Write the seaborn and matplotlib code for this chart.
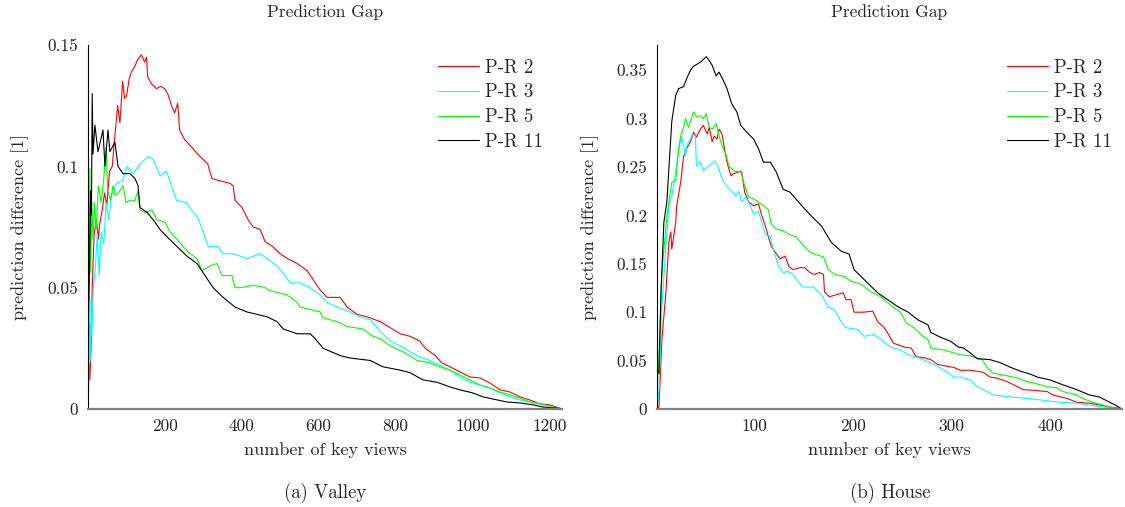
import matplotlib
matplotlib.use("Agg")
import matplotlib.pyplot as plt
import pandas as pd
import seaborn as sns

# series shared by both panels
series_names = ["P-R 2", "P-R 3", "P-R 5", "P-R 11"]
series_colors = ["#ff0000", "#00ffff", "#00ff00", "#000000"]

# ---- (a) Valley ----
valley_x_pr2 = [1, 4, 6, 9, 12, 17, 23, 28, 31, 38, 44, 50, 57, 64, 70, 78, 84, 91, 96, 101,
                108, 114, 122, 130, 140, 148, 153, 156, 166, 179, 190, 200, 208, 218, 226, 234, 239, 252, 270, 286,
                299, 312, 323, 344, 370, 378, 383, 401, 417, 430, 448, 461, 480, 500, 519, 544, 570, 583, 604, 622,
                656, 674, 700, 726, 760, 786, 812, 837, 863, 877, 903, 920, 941, 967, 993, 1019, 1045, 1071, 1097, 1123,
                1149, 1175, 1201, 1232]
valley_y_pr2 = [0.020, 0.018, 0.012, 0.025, 0.050, 0.072, 0.078, 0.070, 0.076, 0.082, 0.089, 0.084, 0.098, 0.100, 0.111,
                0.125, 0.118, 0.135, 0.128, 0.129, 0.136, 0.139, 0.141, 0.144, 0.146, 0.143, 0.145, 0.137, 0.134, 0.132,
                0.133, 0.132, 0.130, 0.125, 0.122, 0.126, 0.115, 0.111, 0.108, 0.105, 0.103, 0.101, 0.095, 0.094, 0.093,
                0.092, 0.086, 0.083, 0.078, 0.075, 0.074, 0.069, 0.067, 0.064, 0.062, 0.060, 0.057, 0.054, 0.049, 0.046,
                0.046, 0.042, 0.039, 0.038, 0.036, 0.0335, 0.031, 0.030, 0.028, 0.025, 0.022, 0.019, 0.0174, 0.0153, 0.0132,
                0.0128, 0.0107, 0.0079, 0.0070, 0.0050, 0.0037, 0.0021, 0.0017, 0.0]

valley_x_pr3 = [1, 3, 5, 7, 9, 11, 15, 20, 25, 30, 35, 42, 48, 55, 62, 75, 90, 103, 118, 136,
                157, 170, 188, 205, 218, 231, 257, 270, 286, 300, 313, 339, 352, 378, 414, 448, 466, 492, 508, 526,
                552, 578, 604, 622, 648, 682, 708, 734, 760, 786, 812, 837, 863, 889, 915, 941, 967, 993, 1019, 1045,
                1071, 1097, 1123, 1149, 1175, 1201, 1232]
valley_y_pr3 = [0.0, 0.010, 0.035, 0.020, 0.045, 0.030, 0.050, 0.058, 0.072, 0.055, 0.073, 0.068, 0.085, 0.078, 0.088,
                0.093, 0.094, 0.100, 0.097, 0.101, 0.104, 0.103, 0.096, 0.098, 0.092, 0.086, 0.085, 0.082, 0.079, 0.073,
                0.067, 0.067, 0.064, 0.064, 0.062, 0.064, 0.062, 0.059, 0.056, 0.052, 0.052, 0.050, 0.047, 0.044, 0.042,
                0.040, 0.038, 0.0368, 0.032, 0.028, 0.026, 0.0236, 0.0215, 0.020, 0.018, 0.016, 0.0132, 0.011, 0.0099, 0.0087,
                0.0066, 0.0050, 0.0037, 0.0029, 0.0021, 0.0012, 0.0]

valley_x_pr5 = [1, 2, 4, 6, 8, 11, 14, 18, 22, 28, 35, 42, 48, 52, 60, 66, 72, 80, 92, 100,
                110, 123, 131, 136, 149, 167, 180, 201, 214, 232, 248, 266, 284, 297, 318, 336, 349, 375, 383, 396,
                430, 461, 469, 518, 544, 552, 604, 611, 648, 674, 715, 741, 760, 786, 819, 856, 889, 915, 941, 967,
                993, 1019, 1045, 1071, 1097, 1123, 1149, 1175, 1201, 1232]
valley_y_pr5 = [0.020, 0.030, 0.060, 0.099, 0.056, 0.085, 0.070, 0.085, 0.074, 0.092, 0.085, 0.095, 0.108, 0.090, 0.086,
                0.092, 0.088, 0.089, 0.092, 0.085, 0.086, 0.086, 0.090, 0.082, 0.081, 0.082, 0.078, 0.077, 0.073, 0.070,
                0.067, 0.064, 0.062, 0.057, 0.059, 0.060, 0.055, 0.055, 0.050, 0.050, 0.051, 0.050, 0.049, 0.047, 0.044,
                0.042, 0.040, 0.0376, 0.036, 0.034, 0.033, 0.030, 0.029, 0.026, 0.0236, 0.020, 0.019, 0.0174, 0.016, 0.014,
                0.012, 0.0099, 0.0087, 0.0070, 0.0058, 0.0045, 0.0029, 0.0021, 0.0012, 0.0]

valley_x_pr11 = [1, 3, 5, 8, 10, 12, 14, 19, 27, 40, 45, 53, 58, 71, 79, 92, 110, 123, 131, 136,
                 155, 175, 188, 206, 232, 258, 284, 305, 326, 352, 383, 414, 440, 466, 492, 508, 544, 578, 591, 612,
                 656, 682, 734, 767, 812, 837, 871, 908, 941, 967, 1001, 1027, 1053, 1089, 1123, 1157, 1183, 1219, 1232]
valley_y_pr11 = [0.010, 0.040, 0.060, 0.090, 0.080, 0.130, 0.105, 0.117, 0.106, 0.115, 0.100, 0.115, 0.106, 0.110, 0.100,
                 0.097, 0.097, 0.095, 0.092, 0.083, 0.081, 0.077, 0.074, 0.071, 0.067, 0.063, 0.060, 0.055, 0.050, 0.046,
                 0.042, 0.040, 0.039, 0.038, 0.036, 0.033, 0.031, 0.031, 0.029, 0.025, 0.022, 0.021, 0.020, 0.0174, 0.016,
                 0.015, 0.012, 0.011, 0.0091, 0.0079, 0.0066, 0.0050, 0.0041, 0.0029, 0.0025, 0.0017, 0.0008, 0.0004, 0.0]

# ---- (b) House ----
house_x_pr2 = [1, 3, 6, 10, 13, 15, 16, 20, 21, 25, 28, 31, 35, 38, 41, 45, 48, 52, 54, 57,
               59, 62, 64, 67, 69, 72, 76, 79, 84, 87, 90, 94, 99, 104, 107, 111, 114, 117, 121, 126,
               131, 135, 139, 146, 151, 156, 161, 166, 170, 171, 176, 183, 190, 193, 198, 201, 210, 220, 225, 231,
               236, 241, 252, 259, 264, 272, 279, 286, 296, 302, 309, 319, 332, 339, 346, 357, 363, 373, 387, 397,
               403, 417, 427, 440, 451, 461, 468, 473]
house_y_pr2 = [0.0, 0.002, 0.072, 0.120, 0.172, 0.183, 0.165, 0.193, 0.210, 0.234, 0.261, 0.269, 0.276, 0.286, 0.281,
               0.289, 0.293, 0.284, 0.291, 0.276, 0.282, 0.279, 0.289, 0.284, 0.272, 0.255, 0.241, 0.243, 0.245, 0.245,
               0.224, 0.214, 0.210, 0.212, 0.201, 0.189, 0.178, 0.168, 0.162, 0.155, 0.158, 0.147, 0.144, 0.146, 0.146,
               0.141, 0.139, 0.141, 0.139, 0.121, 0.116, 0.118, 0.120, 0.113, 0.113, 0.100, 0.100, 0.101, 0.090, 0.085,
               0.077, 0.068, 0.064, 0.063, 0.054, 0.053, 0.051, 0.046, 0.044, 0.043, 0.040, 0.040, 0.038, 0.033, 0.032,
               0.028, 0.025, 0.020, 0.019, 0.018, 0.0145, 0.011, 0.007, 0.006, 0.004, 0.002, 0.001, 0.0]

house_x_pr3 = [1, 3, 6, 10, 13, 16, 20, 23, 26, 30, 31, 35, 37, 40, 41, 45, 48, 52, 56, 59,
               62, 66, 69, 72, 77, 81, 84, 87, 91, 96, 99, 104, 107, 111, 116, 119, 124, 129, 134, 139,
               144, 149, 160, 168, 175, 181, 188, 193, 205, 211, 221, 228, 238, 248, 256, 266, 276, 286, 296, 302,
               309, 319, 326, 336, 342, 360, 377, 393, 410, 427, 440, 454, 473]
house_y_pr3 = [0.0, 0.020, 0.106, 0.168, 0.210, 0.220, 0.245, 0.269, 0.281, 0.261, 0.272, 0.279, 0.284, 0.282, 0.251,
               0.255, 0.246, 0.250, 0.253, 0.256, 0.253, 0.241, 0.234, 0.230, 0.225, 0.220, 0.225, 0.214, 0.219, 0.210,
               0.201, 0.204, 0.194, 0.180, 0.178, 0.165, 0.149, 0.141, 0.142, 0.139, 0.132, 0.126, 0.126, 0.118, 0.105,
               0.103, 0.090, 0.084, 0.082, 0.075, 0.077, 0.072, 0.064, 0.061, 0.056, 0.053, 0.049, 0.044, 0.038, 0.033,
               0.033, 0.030, 0.023, 0.018, 0.0145, 0.0124, 0.011, 0.009, 0.007, 0.006, 0.004, 0.002, 0.0]

house_x_pr5 = [1, 3, 6, 11, 16, 20, 23, 25, 28, 30, 33, 36, 38, 41, 45, 48, 51, 54, 57, 61,
               64, 67, 71, 74, 77, 81, 86, 89, 94, 99, 104, 109, 114, 117, 122, 129, 136, 142, 147, 155,
               161, 170, 175, 181, 191, 198, 208, 218, 228, 235, 241, 248, 254, 262, 271, 276, 279, 292, 302, 309,
               319, 324, 331, 336, 342, 353, 367, 377, 383, 397, 407, 413, 427, 433, 443, 454, 464, 473]
house_y_pr5 = [0.020, 0.054, 0.141, 0.199, 0.234, 0.236, 0.269, 0.282, 0.291, 0.300, 0.291, 0.300, 0.307, 0.302, 0.303,
               0.300, 0.305, 0.291, 0.289, 0.295, 0.282, 0.272, 0.263, 0.251, 0.248, 0.245, 0.246, 0.234, 0.219, 0.217,
               0.214, 0.210, 0.206, 0.191, 0.186, 0.184, 0.180, 0.178, 0.172, 0.163, 0.160, 0.157, 0.144, 0.139, 0.137,
               0.132, 0.129, 0.121, 0.116, 0.110, 0.105, 0.100, 0.089, 0.084, 0.075, 0.072, 0.063, 0.061, 0.058, 0.056,
               0.055, 0.053, 0.051, 0.043, 0.037, 0.035, 0.032, 0.028, 0.027, 0.023, 0.022, 0.018, 0.0145, 0.011, 0.007,
               0.004, 0.001, 0.0]

house_x_pr11 = [1, 3, 5, 8, 11, 16, 20, 23, 28, 31, 35, 38, 43, 46, 51, 54, 57, 61, 64, 69,
                72, 77, 82, 86, 92, 99, 104, 109, 116, 122, 129, 136, 142, 148, 158, 168, 178, 188, 196, 201,
                208, 218, 225, 235, 245, 256, 266, 276, 279, 289, 299, 307, 312, 319, 326, 339, 349, 360, 370, 380,
                387, 400, 413, 427, 440, 450, 460, 468, 473]
house_y_pr11 = [0.040, 0.037, 0.120, 0.193, 0.214, 0.297, 0.324, 0.331, 0.333, 0.341, 0.350, 0.354, 0.357, 0.359, 0.364,
                0.360, 0.355, 0.344, 0.348, 0.338, 0.331, 0.315, 0.307, 0.293, 0.286, 0.279, 0.269, 0.255, 0.255, 0.245,
                0.227, 0.224, 0.217, 0.210, 0.199, 0.189, 0.172, 0.163, 0.160, 0.144, 0.137, 0.127, 0.120, 0.113, 0.106,
                0.100, 0.092, 0.087, 0.079, 0.074, 0.070, 0.064, 0.063, 0.058, 0.052, 0.051, 0.048, 0.043, 0.039, 0.036,
                0.033, 0.030, 0.025, 0.020, 0.0145, 0.0124, 0.0073, 0.003, 0.0]

# ticks
valley_xticks = [200, 400, 600, 800, 1000, 1200]
valley_yticks = [0, 0.05, 0.1, 0.15]
valley_yticklabels = ["0", "0.05", "0.1", "0.15"]
house_xticks = [100, 200, 300, 400]
house_yticks = [0, 0.05, 0.1, 0.15, 0.2, 0.25, 0.3, 0.35]
house_yticklabels = ["0", "0.05", "0.1", "0.15", "0.2", "0.25", "0.3", "0.35"]


def to_long(xs, ys):
    frames = []
    for name, x, y in zip(series_names, xs, ys):
        frames.append(pd.DataFrame({"views": x, "gap": y, "method": name}))
    return pd.concat(frames, ignore_index=True)


valley_df = to_long([valley_x_pr2, valley_x_pr3, valley_x_pr5, valley_x_pr11],
                    [valley_y_pr2, valley_y_pr3, valley_y_pr5, valley_y_pr11])
house_df = to_long([house_x_pr2, house_x_pr3, house_x_pr5, house_x_pr11],
                   [house_y_pr2, house_y_pr3, house_y_pr5, house_y_pr11])

sns.set_style("white")
plt.rcParams["font.family"] = ["cmr10", "DejaVu Serif"]
plt.rcParams["axes.formatter.use_mathtext"] = True

fig = plt.figure(figsize=(11.25, 5.07), dpi=100)
ax_a = fig.add_axes([0.0782, 0.1933, 0.4213, 0.7179])
ax_b = fig.add_axes([0.5840, 0.1933, 0.4133, 0.7179])

palette = dict(zip(series_names, series_colors))

panels = [
    (ax_a, valley_df, (1, 1232), (0, 0.15), valley_xticks, valley_yticks, valley_yticklabels, 0.738),
    (ax_b, house_df, (1, 473), (0, 0.376), house_xticks, house_yticks, house_yticklabels, 0.753),
]

for ax, df, xl, yl, xt, yt, ytl, leg_x in panels:
    sns.lineplot(data=df, x="views", y="gap", hue="method", hue_order=series_names,
                 palette=palette, estimator=None, sort=False, lw=0.8, ax=ax)
    ax.set_xlim(*xl)
    ax.set_ylim(*yl)
    ax.set_xticks(xt)
    ax.set_xticklabels([str(v) for v in xt])
    ax.set_yticks(yt)
    ax.set_yticklabels(ytl)
    ax.tick_params(direction="in", length=4, width=0.7, labelsize=12.5, colors="#222222")
    ax.tick_params(axis="x", pad=7)
    ax.tick_params(axis="y", pad=7)
    sns.despine(ax=ax)
    ax.spines["left"].set_color("black")
    ax.spines["left"].set_linewidth(0.8)
    ax.spines["bottom"].set_color("#808080")
    ax.spines["bottom"].set_linewidth(1.6)
    ax.set_title("Prediction Gap", fontsize=12.5, pad=20)
    ax.set_xlabel("number of key views", fontsize=13)
    ax.set_ylabel("prediction difference [1]", fontsize=13)
    ax.xaxis.set_label_coords(0.5, -0.09)
    ax.yaxis.set_label_coords(-0.124, 0.5)
    sns.move_legend(ax, "upper left", bbox_to_anchor=(leg_x, 0.962), frameon=False, title=None,
                    fontsize=13.5, handlelength=2.2, handletextpad=0.3, labelspacing=0.36,
                    borderpad=0, borderaxespad=0)

fig.text(0.2889, 0.028, "(a) Valley", ha="center", va="center", fontsize=13.5)
fig.text(0.7911, 0.028, "(b) House", ha="center", va="center", fontsize=13.5)

fig.savefig("out.png", dpi=100)
